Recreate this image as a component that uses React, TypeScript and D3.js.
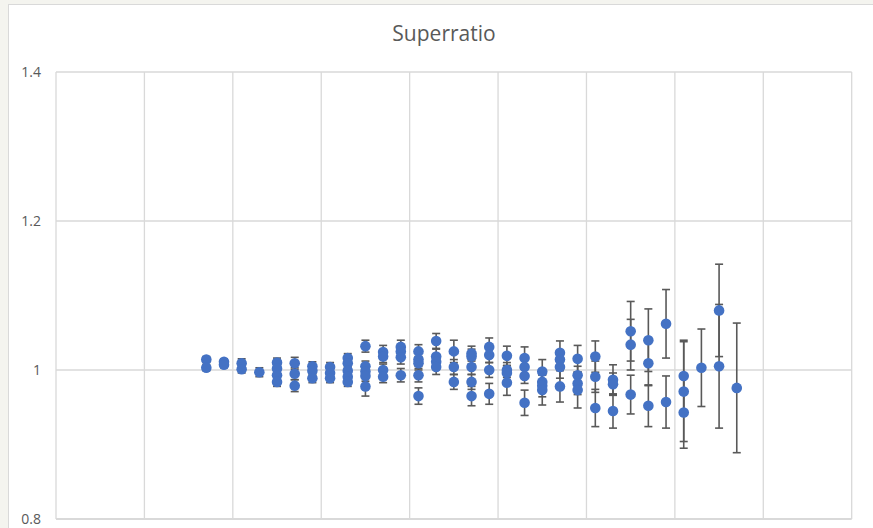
import React from 'react'
import * as d3 from 'd3'

// x position of each column of markers
const columns = [
  8.5, 9.5, 10.5, 11.5, 12.5, 13.5, 14.5, 15.5, 16.5, 17.5, 18.5, 19.5, 20.5,
  21.5, 22.5, 23.5, 24.5, 25.5, 26.5, 27.5, 28.5, 29.5, 30.5, 31.5, 32.5, 33.5,
  34.5, 35.5, 36.5, 37.5, 38.5,
]

// superratio values per column
const ratios = [
  [1.014, 1.003],
  [1.011, 1.007],
  [1.009, 1.001],
  [0.997],
  [1.01, 1.002, 0.993, 0.984],
  [1.009, 0.995, 0.979],
  [1.005, 0.999, 0.989],
  [1.004, 0.996, 0.989],
  [1.016, 1.009, 0.999, 0.991, 0.984],
  [1.032, 1.005, 0.998, 0.992, 0.978],
  [1.024, 1.018, 1.0, 0.991],
  [1.031, 1.025, 1.017, 0.993],
  [1.025, 1.014, 1.009, 0.993, 0.965],
  [1.039, 1.018, 1.011, 1.004],
  [1.025, 1.004, 0.984],
  [1.022, 1.018, 1.004, 0.984, 0.965],
  [1.031, 1.02, 1.0, 0.968],
  [1.019, 1.0, 0.996, 0.983],
  [1.016, 1.004, 0.992, 0.956],
  [0.998, 0.984, 0.979, 0.973],
  [1.023, 1.014, 1.004, 0.978],
  [1.015, 0.993, 0.982, 0.973],
  [1.018, 0.991, 0.949],
  [0.987, 0.981, 0.945],
  [1.052, 1.034, 0.967],
  [1.04, 1.009, 0.952],
  [1.062, 0.957],
  [0.992, 0.971, 0.943],
  [1.003],
  [1.08, 1.005],
  [0.976],
]

// symmetric error (±) for each value above
const errors = [
  [0.004, 0.004],
  [0.004, 0.004],
  [0.006, 0.005],
  [0.006],
  [0.006, 0.006, 0.006, 0.006],
  [0.008, 0.008, 0.008],
  [0.006, 0.006, 0.006],
  [0.006, 0.006, 0.006],
  [0.006, 0.006, 0.006, 0.006, 0.006],
  [0.008, 0.007, 0.007, 0.007, 0.013],
  [0.009, 0.008, 0.008, 0.008],
  [0.009, 0.009, 0.009, 0.009],
  [0.009, 0.009, 0.009, 0.009, 0.011],
  [0.01, 0.01, 0.01, 0.01],
  [0.015, 0.01, 0.01],
  [0.01, 0.01, 0.01, 0.01, 0.013],
  [0.012, 0.01, 0.01, 0.014],
  [0.013, 0.01, 0.01, 0.017],
  [0.015, 0.01, 0.01, 0.017],
  [0.016, 0.013, 0.015, 0.02],
  [0.016, 0.012, 0.015, 0.021],
  [0.018, 0.012, 0.015, 0.024],
  [0.021, 0.021, 0.025],
  [0.02, 0.015, 0.023],
  [0.04, 0.034, 0.026],
  [0.042, 0.03, 0.028],
  [0.046, 0.035],
  [0.048, 0.067, 0.048],
  [0.052],
  [0.062, 0.083],
  [0.087],
]

const yTicks = [0.8, 1, 1.2, 1.4]
const xGrid = [0, 5, 10, 15, 20, 25, 30, 35, 40, 45]

const W = 873
const H = 528
const margin = { left: 56, right: 21.3, top: 72, bottom: 9 }

export default function App() {
  const x = d3
    .scaleLinear()
    .domain([0, 45])
    .range([margin.left, W - margin.right])
  const y = d3
    .scaleLinear()
    .domain([0.8, 1.4])
    .range([H - margin.bottom, margin.top])

  const points = columns.flatMap((c, i) =>
    ratios[i].map((v, j) => ({ x: c, v, e: errors[i][j] })),
  )

  return (
    <svg
      width={W}
      height={H}
      style={{ position: 'absolute', left: 0, top: 0, display: 'block' }}
      fontFamily="'Open Sans', sans-serif"
    >
      <rect width={W} height={H} fill="#f4f4ef" />
      <rect
        x={8.5}
        y={4.5}
        width={W}
        height={H}
        fill="#fff"
        stroke="#d9d9d9"
      />
      <text x={444} y={41} textAnchor="middle" fontSize={21} fill="#595959">
        Superratio
      </text>

      {/* grid */}
      {xGrid.map((g) => (
        <line
          key={'gx' + g}
          x1={x(g)}
          x2={x(g)}
          y1={y(1.4)}
          y2={y(0.8)}
          stroke="#d9d9d9"
          strokeWidth={1.3}
        />
      ))}
      {yTicks.map((t) => (
        <g key={'gy' + t}>
          <line
            x1={x(0)}
            x2={x(45)}
            y1={y(t)}
            y2={y(t)}
            stroke="#d9d9d9"
            strokeWidth={t === 0.8 ? 1.8 : 1.3}
          />
          <text
            x={41}
            y={y(t)}
            dy="0.35em"
            textAnchor="end"
            fontSize={14}
            fill="#595959"
          >
            {t === 1 ? '1' : t.toFixed(1)}
          </text>
        </g>
      ))}

      {/* error bars */}
      {points.map((p, i) => (
        <g key={'e' + i} stroke="#595959" strokeWidth={1.6}>
          <line x1={x(p.x)} x2={x(p.x)} y1={y(p.v + p.e)} y2={y(p.v - p.e)} />
          <line
            x1={x(p.x) - 4}
            x2={x(p.x) + 4}
            y1={y(p.v + p.e)}
            y2={y(p.v + p.e)}
          />
          <line
            x1={x(p.x) - 4}
            x2={x(p.x) + 4}
            y1={y(p.v - p.e)}
            y2={y(p.v - p.e)}
          />
        </g>
      ))}

      {/* markers */}
      {points.map((p, i) => (
        <circle
          key={'p' + i}
          cx={x(p.x)}
          cy={y(p.v)}
          r={5.3}
          fill="#4472c4"
        />
      ))}
    </svg>
  )
}
